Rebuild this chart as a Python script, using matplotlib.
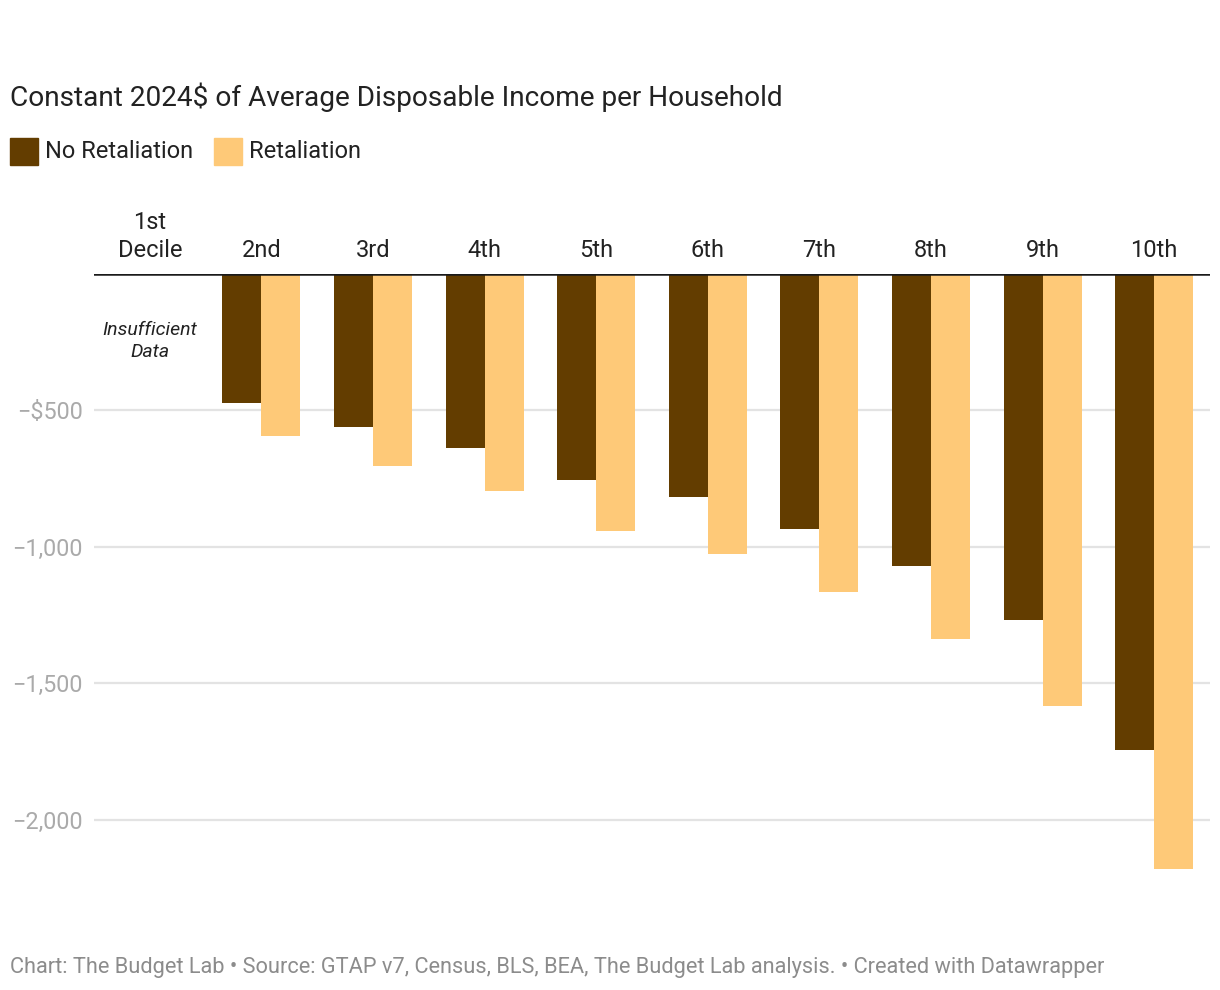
import matplotlib
matplotlib.use("Agg")
from matplotlib import pyplot as plt
import matplotlib.patches as mpatches
import numpy as np

plt.rcParams["font.family"] = ["Roboto", "DejaVu Sans"]

# Data
deciles = ["1st\nDecile", "2nd", "3rd", "4th", "5th", "6th", "7th", "8th", "9th", "10th"]
no_retaliation = [np.nan, -475, -563, -640, -755, -820, -935, -1070, -1270, -1745]
retaliation = [np.nan, -595, -705, -797, -942, -1027, -1165, -1337, -1585, -2180]
y_ticks = [-500, -1000, -1500, -2000]
y_tick_labels = ["\u2212$500", "\u22121,000", "\u22121,500", "\u22122,000"]
series_names = ["No Retaliation", "Retaliation"]
colors = ["#633d00", "#fec978"]

W, H = 1220, 990
fig = plt.figure(figsize=(W / 100, H / 100), dpi=100)

# axes placement in pixels
left, right, top, bottom = 94, 1210, 273.5, 888
ax = fig.add_axes([left / W, 1 - bottom / H, (right - left) / W, (bottom - top) / H])

x = np.arange(len(deciles))
bw = 0.35
ax.bar(x - bw / 2, no_retaliation, width=bw, color=colors[0], zorder=3)
ax.bar(x + bw / 2, retaliation, width=bw, color=colors[1], zorder=3)

ax.set_xlim(-0.5, len(deciles) - 0.5)
ax.set_ylim(-2250, 0)

# gridlines
for t in y_ticks:
    ax.axhline(t, color="#e3e3e3", lw=1.6, zorder=1)
ax.axhline(0, color="#1a1a1a", lw=1.8, zorder=4)

ax.set_yticks(y_ticks)
ax.set_yticklabels(y_tick_labels, fontsize=16.8, color="#aaaaaa")
ax.tick_params(axis="y", length=0, pad=8)

ax.xaxis.tick_top()
ax.set_xticks(x)
ax.set_xticklabels(deciles, fontsize=17, color="#222222", linespacing=1.3)
ax.tick_params(axis="x", length=0, pad=8)

for s in ax.spines.values():
    s.set_visible(False)

ax.text(0, -247, "Insufficient\nData", ha="center", va="center", fontsize=14,
        style="italic", color="#222222", linespacing=1.35)

# title, legend, footer
fig.text(10 / W, 1 - 97 / H, "Constant 2024$ of Average Disposable Income per Household",
         fontsize=20.2, color="#222222", va="center")

legend_items = [(10, 45), (214, 249)]
for (px, tx), name, c in zip(legend_items, series_names, colors):
    fig.patches.append(mpatches.Rectangle((px / W, 1 - 165 / H), 28 / W, 27 / H,
                                          transform=fig.transFigure, color=c))
    fig.text(tx / W, 1 - 151 / H, name, fontsize=17, color="#222222", va="center")

fig.text(10 / W, 1 - 968 / H,
         "Chart: The Budget Lab \u2022 Source: GTAP v7, Census, BLS, BEA, The Budget Lab analysis. \u2022 Created with Datawrapper",
         fontsize=15.7, color="#8c8c8c", va="center")

fig.savefig("out.png", dpi=100)
